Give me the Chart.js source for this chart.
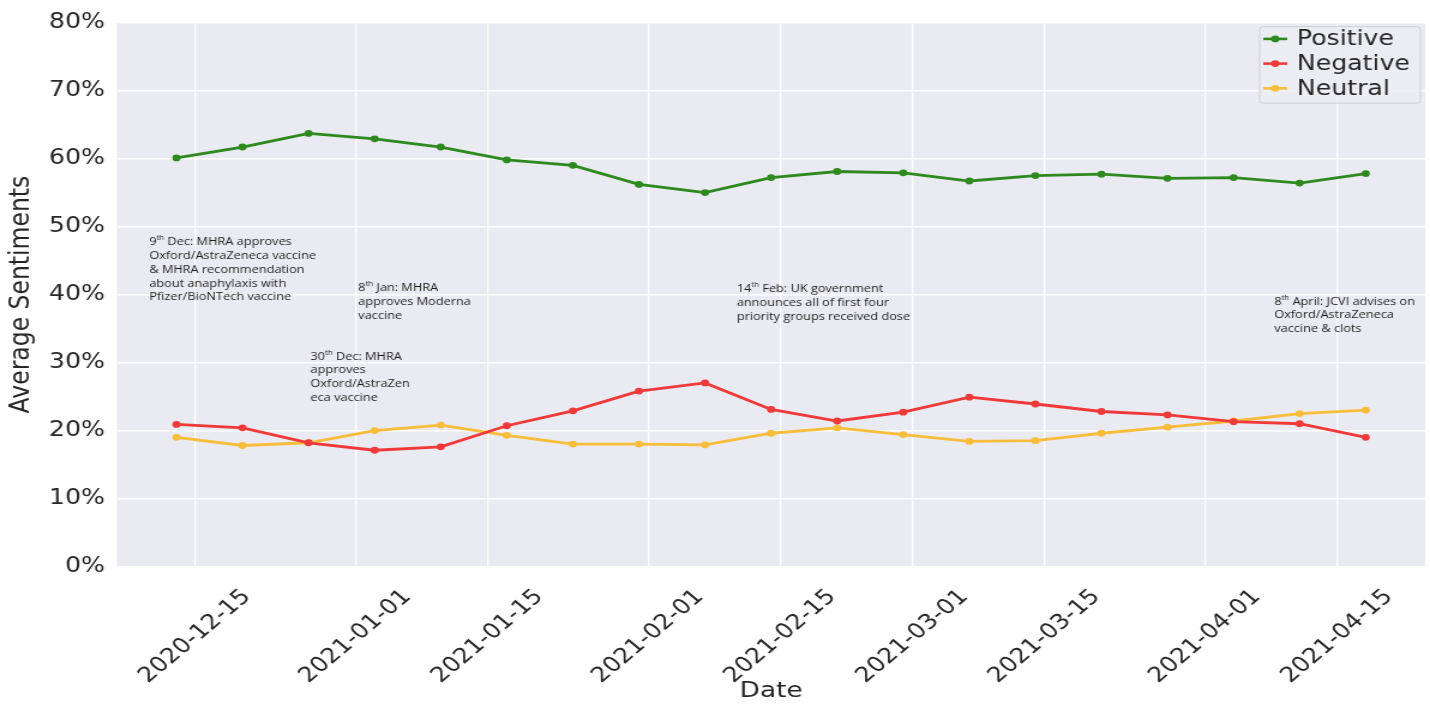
<!DOCTYPE html>
<html><head><meta charset="utf-8">
<script src="https://cdn.jsdelivr.net/npm/chart.js@4.4.1/dist/chart.umd.min.js"></script>
<style>html,body{margin:0;padding:0;background:#fff;overflow:hidden}</style>
</head><body>
<canvas id="c" width="1192" height="704" style="display:block;width:1430px;height:704px"></canvas>
<script>
// ---- data ----
const dates = ['2020-12-13','2020-12-20','2020-12-27','2021-01-03','2021-01-10','2021-01-17','2021-01-24','2021-01-31','2021-02-07','2021-02-14','2021-02-21','2021-02-28','2021-03-07','2021-03-14','2021-03-21','2021-03-28','2021-04-04','2021-04-11','2021-04-18'];
const positive = [60.1,61.7,63.7,62.9,61.7,59.8,59.0,56.2,55.0,57.2,58.1,57.9,56.7,57.5,57.7,57.1,57.2,56.4,57.8];
const negative = [20.9,20.4,18.2,17.1,17.6,20.7,22.9,25.8,27.0,23.1,21.4,22.7,24.9,23.9,22.8,22.3,21.3,21.0,19.0];
const neutral  = [19.0,17.8,18.2,20.0,20.8,19.3,18.0,18.0,17.9,19.6,20.4,19.4,18.4,18.5,19.6,20.5,21.4,22.5,23.0];
const seriesNames = ['Positive','Negative','Neutral'];
const tickDates = ['2020-12-15','2021-01-01','2021-01-15','2021-02-01','2021-02-15','2021-03-01','2021-03-15','2021-04-01','2021-04-15'];
const yTicks = [0,10,20,30,40,50,60,70,80];
const notes = [
  {lines:['9{th} Dec: MHRA approves','Oxford/AstraZeneca vaccine','& MHRA recommendation','about anaphylaxis with','Pfizer/BioNTech vaccine']},
  {lines:['8{th} Jan: MHRA','approves Moderna','vaccine']},
  {lines:['30{th} Dec: MHRA','approves','Oxford/AstraZen','eca vaccine']},
  {lines:['14{th} Feb: UK government','announces all of first four','priority groups received dose']},
  {lines:['8{th} April: JCVI advises on','Oxford/AstraZeneca','vaccine & clots']}
];
// annotation anchors: [days after first date, value %]
const noteAnchors = [[-2.88,47.74],[19.26,40.92],[14.2,30.87],[59.37,40.8],[116.31,38.98]];

// ---- helpers ----
const day = s => Date.UTC(+s.slice(0,4), +s.slice(5,7)-1, +s.slice(8,10)) / 86400000;
const d0 = day(dates[0]), d1 = day(dates[dates.length-1]);
const margin = (d1 - d0) * 0.05;
const colors = ['#2e8a1e','#f03a3a','#f8bd3b'];
const TXT = '#262626';
const FONT = 'DejaVu Sans';

const bgPlugin = {
  id:'bg',
  beforeDraw(chart){
    const {ctx, chartArea:a} = chart;
    ctx.save();
    ctx.fillStyle = '#fff'; ctx.fillRect(0,0,chart.width,chart.height);
    ctx.fillStyle = '#EAEAF2'; ctx.fillRect(a.left,a.top,a.right-a.left,a.bottom-a.top);
    ctx.restore();
  }
};

const notesPlugin = {
  id:'notes',
  afterDatasetsDraw(chart){
    const ctx = chart.ctx, xs = chart.scales.x, ys = chart.scales.y;
    ctx.save();
    ctx.font = '11px "Open Sans"';
    const size = 11 * 139 / ctx.measureText('Oxford/AstraZeneca vaccine').width;
    const supSize = size * 0.62;
    ctx.fillStyle = '#1e1e1e';
    ctx.textBaseline = 'middle';
    ctx.textAlign = 'left';
    notes.forEach((n, k) => {
      const px = xs.getPixelForValue(d0 + noteAnchors[k][0]);
      let py = ys.getPixelForValue(noteAnchors[k][1]);
      n.lines.forEach(line => {
        let x = px;
        const parts = line.split(/(\{[^}]*\})/).filter(p => p.length);
        parts.forEach(p => {
          if (p[0] === '{') {
            const t = p.slice(1,-1);
            ctx.font = supSize + 'px "Open Sans"';
            ctx.fillText(t, x, py - size*0.35);
            x += ctx.measureText(t).width;
          } else {
            ctx.font = size + 'px "Open Sans"';
            ctx.fillText(p, x, py);
            x += ctx.measureText(p).width;
          }
        });
        py += 13.85;
      });
    });
    ctx.restore();
  }
};

const legendPlugin = {
  id:'mylegend',
  afterDraw(chart){
    const ctx = chart.ctx, a = chart.chartArea;
    const right = a.right - 4, top = a.top + 4, w = 134, h = 76.5, left = right - w;
    ctx.save();
    ctx.beginPath();
    ctx.roundRect(left, top, w, h, 3);
    ctx.fillStyle = 'rgba(236,236,243,0.85)';
    ctx.fill();
    ctx.strokeStyle = '#cfcfd6';
    ctx.lineWidth = 1;
    ctx.stroke();
    chart.data.datasets.forEach((ds, i) => {
      const cy = top + 12.3 + i * 24.7;
      ctx.strokeStyle = ds.borderColor;
      ctx.lineWidth = 2.6;
      ctx.beginPath(); ctx.moveTo(left + 3, cy); ctx.lineTo(left + 23, cy); ctx.stroke();
      ctx.fillStyle = ds.borderColor;
      ctx.beginPath(); ctx.arc(left + 13, cy, 3.4, 0, Math.PI*2); ctx.fill();
      ctx.fillStyle = TXT;
      ctx.font = '21px "' + FONT + '"';
      ctx.textBaseline = 'middle';
      ctx.fillText(ds.label, left + 31, cy + 1);
    });
    ctx.restore();
  }
};

const seriesValues = [positive, negative, neutral];
const datasets = seriesNames.map((name, i) => ({
  label: name,
  data: dates.map((d, j) => ({x: day(d), y: seriesValues[i][j]})),
  borderColor: colors[i],
  backgroundColor: colors[i],
  pointBackgroundColor: colors[i],
  pointBorderWidth: 0,
  pointRadius: 3.4,
  borderWidth: 2.8,
  tension: 0
}));

new Chart(document.getElementById('c'), {
  type: 'line',
  data: { datasets },
  options: {
    responsive: false,
    animation: false,
    devicePixelRatio: 1,
    layout: { padding: { top: 21, right: 2, bottom: 0, left: 0 } },
    plugins: { legend: { display: false }, tooltip: { enabled: false } },
    scales: {
      x: {
        type: 'linear',
        min: d0 - margin,
        max: d1 + margin,
        afterBuildTicks: s => { s.ticks = tickDates.map(d => ({ value: day(d) })); },
        afterFit: s => { s.height = 137.5; },
        grid: { color: '#ffffff', lineWidth: 1.3, drawTicks: false },
        border: { display: false },
        ticks: {
          autoSkip: false, minRotation: 45, maxRotation: 45,
          labelOffset: 43, padding: 18, color: TXT,
          font: { family: FONT, size: 21 },
          callback: (v, i) => tickDates[i]
        },
        title: { display: true, text: 'Date', color: TXT, font: { family: FONT, size: 22 }, padding: { top: 0, bottom: 0 } }
      },
      y: {
        min: 0, max: 80,
        afterBuildTicks: s => { s.ticks = yTicks.map(v => ({ value: v })); },
        afterFit: s => { s.width = 97.5; },
        grid: { color: '#ffffff', lineWidth: 1.5, drawTicks: false },
        border: { display: false },
        ticks: { padding: 10, color: TXT, font: { family: FONT, size: 21 }, callback: v => v + '%' },
        title: { display: true, text: 'Average Sentiments', color: TXT, font: { family: FONT, size: 23.5 }, padding: { top: 4, bottom: 0 } }
      }
    }
  },
  plugins: [bgPlugin, notesPlugin, legendPlugin]
});
</script>
</body></html>
